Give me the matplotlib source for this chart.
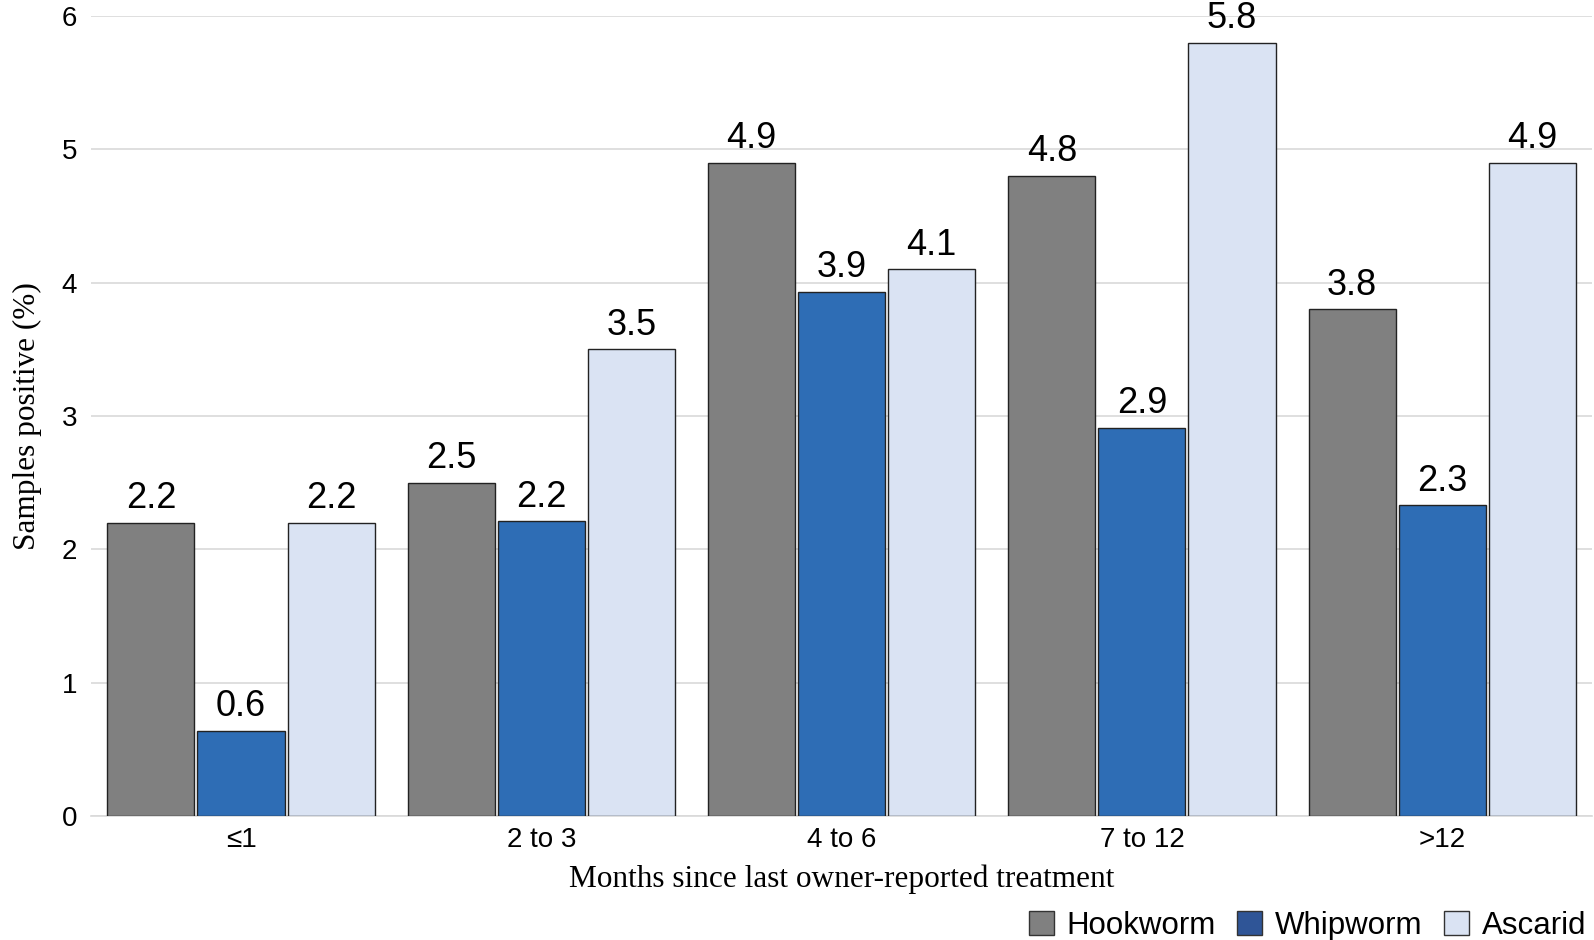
import numpy as np
import matplotlib.pyplot as plt
from matplotlib.patches import Patch

categories = ["≤1", "2 to 3", "4 to 6", "7 to 12", ">12"]
hookworm = [2.2, 2.5, 4.9, 4.8, 3.8]
whipworm = [0.64, 2.21, 3.93, 2.91, 2.33]
ascarid = [2.2, 3.5, 4.1, 5.8, 4.9]

series = [("Hookworm", hookworm, "#808080"),
          ("Whipworm", whipworm, "#2E6DB5"),
          ("Ascarid", ascarid, "#DAE3F3")]

fig = plt.figure(figsize=(15.94, 9.40), dpi=100)
ax = fig.add_axes([0.057, 0.132, 0.942, 0.851])

x = np.arange(len(categories))
width = 0.29
offsets = [-0.3, 0.0, 0.3]

for (name, vals, col), off in zip(series, offsets):
    bars = ax.bar(x + off, vals, width, color=col, edgecolor="#222222",
                  linewidth=1.0, zorder=3, label=name)
    for b, v in zip(bars, vals):
        ax.text(b.get_x() + b.get_width() / 2, v + 0.05, f"{v:.1f}",
                ha="center", va="bottom", fontsize=26,
                family="Liberation Sans", zorder=4)

ax.set_xlim(-0.5, len(categories) - 0.5)
ax.set_ylim(0, 6)
ax.set_yticks(range(0, 7))
ax.set_xticks(x)
ax.set_xticklabels(categories, family="Liberation Sans", fontsize=20)
for lab in ax.get_yticklabels():
    lab.set_family("Liberation Sans")
    lab.set_fontsize(20)
ax.tick_params(length=0, pad=10)
ax.tick_params(axis="x", pad=8)
ax.grid(axis="y", color="#D9D9D9", linewidth=1.2, zorder=0)
for s in ["top", "right", "left"]:
    ax.spines[s].set_visible(False)
ax.spines["bottom"].set_color("#D9D9D9")
ax.spines["bottom"].set_linewidth(1.2)

ax.set_ylabel("Samples positive (%)", family="Liberation Serif", fontsize=22.5, labelpad=14)
ax.set_xlabel("Months since last owner-reported treatment", family="Liberation Serif",
              fontsize=22.5, labelpad=8)

handles = [Patch(facecolor=c if n != "Whipworm" else "#2F5597", edgecolor="#333333", label=n)
           for n, _, c in series]
fig.legend(handles=handles, loc="lower right", bbox_to_anchor=(0.997, -0.004), ncol=3,
           frameon=False, prop={"family": "Liberation Sans", "size": 22.5},
           handlelength=0.8, handleheight=0.8, handletextpad=0.4, columnspacing=0.7,
           borderaxespad=0.0, borderpad=0.1)

fig.savefig("out.png", dpi=100)
